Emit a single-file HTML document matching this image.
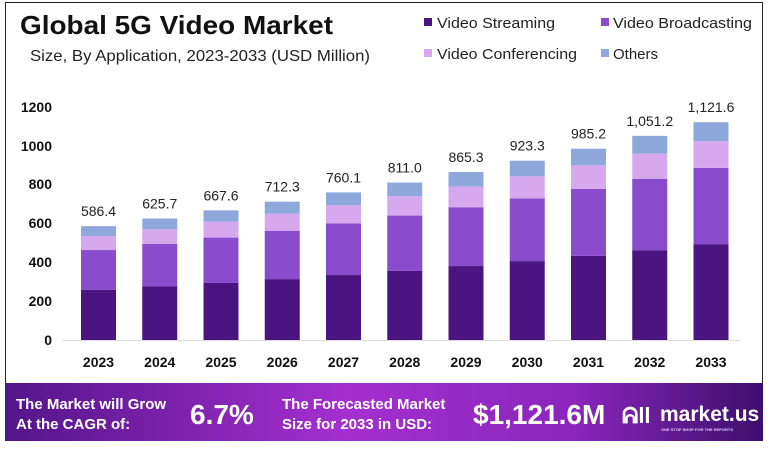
<!DOCTYPE html>
<html><head><meta charset="utf-8"><style>
body{margin:0;width:768px;height:444px;background:#fff;overflow:hidden;font-family:"Liberation Sans",sans-serif}
</style></head><body>
<svg width="768" height="444" viewBox="0 0 768 444" xmlns="http://www.w3.org/2000/svg">
<defs>
<linearGradient id="bg" x1="0" x2="1" y1="0" y2="0">
<stop offset="0" stop-color="#54158a"/><stop offset="0.45" stop-color="#a42fcf"/><stop offset="0.75" stop-color="#8a26bb"/><stop offset="1" stop-color="#3d0f6e"/>
</linearGradient>
</defs>
<rect x="5.5" y="2.5" width="757" height="437" fill="#fff" stroke="#222" stroke-width="1"/>
<text x="20" y="34" font-size="26" font-weight="bold" fill="#111" textLength="313" lengthAdjust="spacingAndGlyphs">Global 5G Video Market</text>
<text x="30" y="61" font-size="16" fill="#222" textLength="340" lengthAdjust="spacingAndGlyphs">Size, By Application, 2023-2033 (USD Million)</text>
<g font-size="15" fill="#222">
<rect x="424" y="18" width="8" height="8" fill="#4a1580"/><text x="437" y="28" textLength="118" lengthAdjust="spacingAndGlyphs">Video Streaming</text>
<rect x="601" y="18" width="8" height="8" fill="#8a4ccc"/><text x="613" y="28" textLength="139" lengthAdjust="spacingAndGlyphs">Video Broadcasting</text>
<rect x="424" y="49" width="8" height="8" fill="#d6a8ee"/><text x="437" y="59" textLength="140" lengthAdjust="spacingAndGlyphs">Video Conferencing</text>
<rect x="601" y="49" width="8" height="8" fill="#8fa8dc"/><text x="613" y="59">Others</text>
</g>
<g font-size="14" font-weight="bold" fill="#111" text-anchor="end">
<text x="52" y="112">1200</text><text x="52" y="151">1000</text><text x="52" y="189">800</text>
<text x="52" y="228">600</text><text x="52" y="267">400</text><text x="52" y="306">200</text><text x="52" y="345">0</text>
</g>
<line x1="62" y1="340.5" x2="740" y2="340.5" stroke="#ddd"/>
<g id="bars"></g>
<rect x="5" y="383" width="758" height="58" fill="url(#bg)"/>
<g fill="#fff" font-weight="bold">
<text x="16" y="409" font-size="15">The Market will Grow</text>
<text x="16" y="429" font-size="15">At the CAGR of:</text>
<text x="190" y="424" font-size="28">6.7%</text>
<text x="282" y="409" font-size="15">The Forecasted Market</text>
<text x="282" y="429" font-size="15">Size for 2033 in USD:</text>
<text x="473" y="424" font-size="28">$1,121.6M</text>
<text x="622" y="423" font-size="22">ᕱll</text>
<text x="660" y="421" font-size="21">market.us</text>
<text x="661" y="431" font-size="4" fill="#e0c8f0">ONE STOP SHOP FOR THE REPORTS</text>
</g>
</svg>
<script>
var tot=[586.4,625.7,667.6,712.3,760.1,811.0,865.3,923.3,985.2,1051.2,1121.6];
var lab=["586.4","625.7","667.6","712.3","760.1","811.0","865.3","923.3","985.2","1,051.2","1,121.6"];
var r=[0.44,0.35,0.123,0.087],c=["#4a1580","#8a4ccc","#d6a8ee","#8fa8dc"];
var s="",k=0.1942;
for(var i=0;i<11;i++){var cx=98.5+i*61.25,x=cx-17.5,y=340;
for(var j=0;j<4;j++){var h=tot[i]*r[j]*k;y-=h;s+='<rect x="'+x+'" y="'+y+'" width="35" height="'+h+'" fill="'+c[j]+'"/>';}
s+='<text x="'+cx+'" y="'+(y-10)+'" font-size="14" fill="#222" text-anchor="middle">'+lab[i]+'</text>';
s+='<text x="'+cx+'" y="367" font-size="14" font-weight="bold" fill="#111" text-anchor="middle">'+(2023+i)+'</text>';}
document.getElementById("bars").innerHTML=s;
</script>
</body></html>
